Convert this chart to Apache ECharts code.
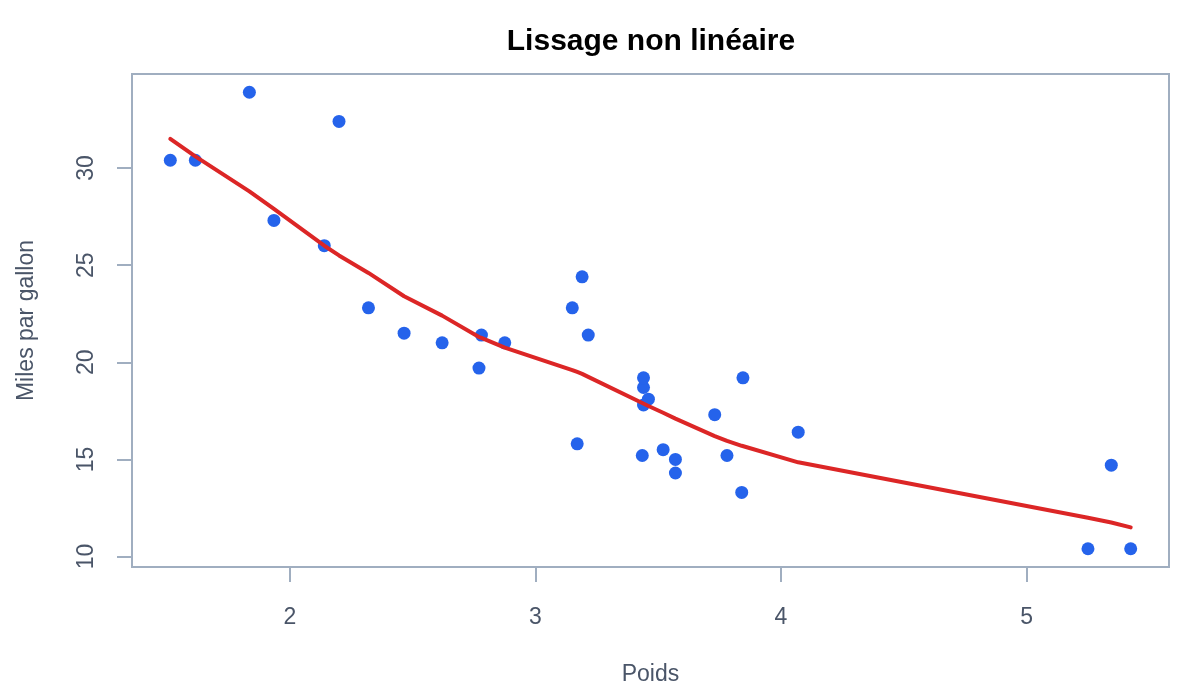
<!DOCTYPE html>
<html>
<head>
<meta charset="utf-8">
<script src="https://cdn.jsdelivr.net/npm/echarts@6/dist/echarts.min.js"></script>
<style>
  html, body { margin: 0; padding: 0; background: #fff; }
  #chart { width: 1200px; height: 700px; }
</style>
</head>
<body>
<div id="chart"></div>
<script>
// poids (wt) et consommation (mpg)
const poids = [2.620, 2.875, 2.320, 3.215, 3.440, 3.460, 3.570, 3.190, 3.150, 3.440,
  3.440, 4.070, 3.730, 3.780, 5.250, 5.424, 5.345, 2.200, 1.615, 1.835,
  2.465, 3.520, 3.435, 3.840, 3.845, 1.935, 2.140, 1.513, 3.170, 2.770,
  3.570, 2.780];
const mpg = [21.0, 21.0, 22.8, 21.4, 18.7, 18.1, 14.3, 24.4, 22.8, 19.2,
  17.8, 16.4, 17.3, 15.2, 10.4, 10.4, 14.7, 32.4, 30.4, 33.9,
  21.5, 15.5, 15.2, 13.3, 19.2, 27.3, 26.0, 30.4, 15.8, 19.7,
  15.0, 21.4];

// courbe lissée
const lissageX = [1.513, 1.615, 1.835, 1.935, 2.14, 2.2, 2.32, 2.465, 2.62, 2.77,
  2.78, 2.875, 3.15, 3.17, 3.19, 3.215, 3.435, 3.44, 3.46, 3.52,
  3.57, 3.73, 3.78, 3.84, 3.845, 4.07, 5.25, 5.345, 5.424];
const lissageY = [31.5, 30.6, 28.8, 27.9, 26.0, 25.5, 24.6, 23.4, 22.4, 21.3,
  21.25, 20.75, 19.6, 19.5, 19.4, 19.25, 17.9, 17.85, 17.75, 17.4,
  17.1, 16.2, 15.95, 15.7, 15.65, 14.85, 12.0, 11.75, 11.5];

const xTicks = [2, 3, 4, 5];
const yTicks = [10, 15, 20, 25, 30];

const chart = echarts.init(document.getElementById('chart'));

const axisColor = '#a0aec0';
const textColor = '#4a5568';
const font = 'Liberation Sans, Arial, sans-serif';

chart.setOption({
  animation: false,
  title: {
    text: 'Lissage non linéaire',
    left: 646,
    textAlign: 'center',
    top: 22,
    textStyle: { fontFamily: font, fontSize: 30, fontWeight: 'bold', color: '#000' }
  },
  grid: {
    left: 132, right: 31, top: 74, bottom: 133,
    containLabel: false,
    outerBoundsMode: 'none',
    show: true, borderColor: axisColor, borderWidth: 2
  },
  xAxis: {
    type: 'value',
    min: 1.357, max: 5.58,
    name: 'Poids',
    nameLocation: 'middle',
    nameGap: 96,
    nameTextStyle: { fontFamily: font, fontSize: 23, color: textColor },
    axisLine: { show: false },
    axisTick: { show: true, length: 15, lineStyle: { color: axisColor, width: 2 }, customValues: xTicks },
    axisLabel: { fontFamily: font, fontSize: 23, color: textColor, margin: 39, customValues: xTicks },
    splitLine: { show: false }
  },
  yAxis: {
    type: 'value',
    min: 9.46, max: 34.84,
    name: 'Miles par gallon',
    nameLocation: 'middle',
    nameGap: 94,
    nameTextStyle: { fontFamily: font, fontSize: 23, color: textColor },
    axisLine: { show: false },
    axisTick: { show: true, length: 15, lineStyle: { color: axisColor, width: 2 }, customValues: yTicks },
    axisLabel: { fontFamily: font, fontSize: 23, color: textColor, margin: 34, rotate: 90, customValues: yTicks },
    splitLine: { show: false }
  },
  series: [
    {
      type: 'scatter',
      data: poids.map((w, i) => [w, mpg[i]]),
      symbolSize: 13,
      itemStyle: { color: '#2563eb', opacity: 1 }
    },
    {
      type: 'line',
      data: lissageX.map((w, i) => [w, lissageY[i]]),
      showSymbol: false,
      smooth: false,
      z: 3,
      lineStyle: { color: '#dc2626', width: 4, cap: 'round', join: 'round' }
    }
  ]
});
</script>
</body>
</html>
